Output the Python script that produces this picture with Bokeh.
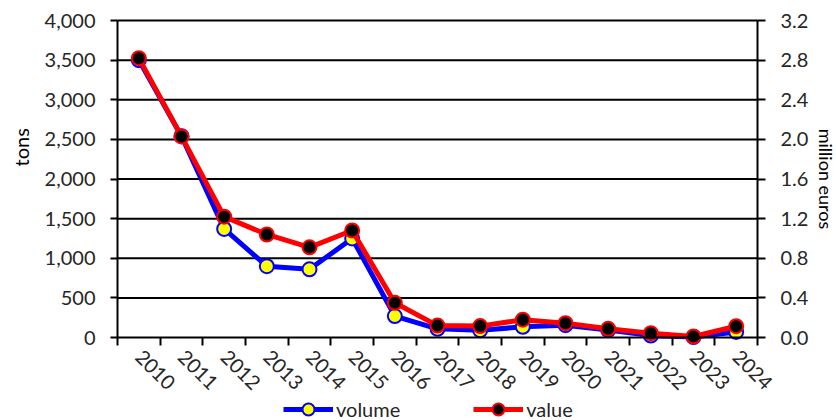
import math
from bokeh.plotting import figure
from bokeh.models import (Range1d, LinearAxis, FixedTicker, NumeralTickFormatter,
                          Legend, LegendItem, Label)
from bokeh.embed import file_html
from bokeh.resources import INLINE

years = [2010, 2011, 2012, 2013, 2014, 2015, 2016, 2017, 2018, 2019, 2020, 2021, 2022, 2023, 2024]
volume_tons = [3500, 2540, 1370, 900, 860, 1250, 270, 110, 90, 135, 155, 95, 25, 5, 70]
value_meur = [2.82, 2.03, 1.22, 1.04, 0.91, 1.08, 0.35, 0.12, 0.115, 0.18, 0.145, 0.088, 0.044, 0.01, 0.114]
tons_ticks = [0, 500, 1000, 1500, 2000, 2500, 3000, 3500, 4000]
eur_ticks = [0.0, 0.4, 0.8, 1.2, 1.6, 2.0, 2.4, 2.8, 3.2]
left_label = "tons"
right_label = "million euros"

FONT = "Lato"
FS = "20px"
TXT = "#262626"

# layout in pixels: the whole canvas is the frame, the plotting box sits inside it
W, H = 836, 420
LEFT_PX, PLOT_W = 117, 640
TOP_PX, SPAN_PX = 20, 317
RIGHT_PX = W - LEFT_PX - PLOT_W
BELOW_PX = H - TOP_PX - SPAN_PX

t_max = tons_ticks[-1]
e_max = eur_ticks[-1]
x0 = years[0] - 0.5
x1 = years[-1] + 0.5
ppy = PLOT_W / (x1 - x0)

p = figure(frame_width=W, frame_height=H,
           min_border_left=0, min_border_right=0, min_border_top=0, min_border_bottom=0,
           x_range=Range1d(x0 - LEFT_PX / ppy, x1 + RIGHT_PX / ppy),
           y_range=Range1d(-t_max * BELOW_PX / SPAN_PX, t_max * (1 + TOP_PX / SPAN_PX)),
           output_backend="svg", toolbar_location=None, tools="")
p.extra_y_ranges = {"eur": Range1d(-e_max * BELOW_PX / SPAN_PX, e_max * (1 + TOP_PX / SPAN_PX))}
p.outline_line_color = None
p.background_fill_color = "white"
p.border_fill_color = "white"

# gridlines (value 0 is the x axis line)
n_g = len(tons_ticks) - 1
p.segment(x0=[x0] * n_g, x1=[x1] * n_g, y0=tons_ticks[1:], y1=tons_ticks[1:],
          line_color="black", line_width=2)

# x axis, pinned at zero
xa = p.xaxis[0]
xa.fixed_location = 0
xa.bounds = (x0, x1)
xa.axis_label = None
xa.ticker = FixedTicker(ticks=years, minor_ticks=[y - 0.5 for y in years] + [x1])
xa.major_label_overrides = {y: str(y) for y in years}
xa.major_label_orientation = -math.pi / 4
xa.major_tick_out = 0
xa.major_tick_in = 0
xa.minor_tick_out = 8
xa.minor_tick_in = 0
xa.minor_tick_line_color = "black"
xa.minor_tick_line_width = 2
xa.axis_line_color = "black"
xa.axis_line_width = 2
xa.major_label_text_font = FONT
xa.major_label_text_font_size = FS
xa.major_label_text_color = TXT
xa.major_label_standoff = 8

# left axis
ya = p.yaxis[0]
ya.fixed_location = x0
ya.bounds = (0, t_max)
ya.axis_label = None
ya.ticker = FixedTicker(ticks=tons_ticks)
ya.formatter = NumeralTickFormatter(format="0,0")
ya.major_tick_out = 7
ya.major_tick_in = 0
ya.minor_tick_line_color = None
ya.major_tick_line_width = 2
ya.axis_line_width = 2
ya.axis_line_color = "black"
ya.major_label_text_font = FONT
ya.major_label_text_font_size = FS
ya.major_label_text_color = TXT
ya.major_label_standoff = 15

# right axis
ra = LinearAxis(y_range_name="eur", ticker=FixedTicker(ticks=eur_ticks),
                formatter=NumeralTickFormatter(format="0.0"), bounds=(0, e_max),
                fixed_location=x1)
ra.major_tick_out = 8
ra.major_tick_in = 0
ra.minor_tick_line_color = None
ra.major_tick_line_width = 2
ra.axis_line_width = 2
ra.axis_line_color = "black"
ra.major_label_text_font = FONT
ra.major_label_text_font_size = FS
ra.major_label_text_color = TXT
ra.major_label_standoff = 15
p.add_layout(ra, "right")

p.xgrid.grid_line_color = None
p.ygrid.grid_line_color = None

# axis titles
p.add_layout(Label(x=x0, y=t_max * 0.6, x_offset=-97, text=left_label, angle=math.pi / 2,
                   text_font=FONT, text_font_size="20px", text_color="black",
                   text_align="center", text_baseline="middle"))
p.add_layout(Label(x=x1, y=t_max * 0.5, x_offset=68, text=right_label, angle=-math.pi / 2,
                   text_font=FONT, text_font_size="18px", text_color="black",
                   text_align="center", text_baseline="middle"))

# series
bl = p.line(years, volume_tons, line_color="#0000ff", line_width=5)
yc = p.scatter(years, volume_tons, size=14, fill_color="#ffff00", line_color="#0000ff", line_width=2)
rl = p.line(years, value_meur, line_color="#ff0000", line_width=5, y_range_name="eur")
bc = p.scatter(years, value_meur, size=14, fill_color="black", line_color="#ff0000", line_width=2,
               y_range_name="eur")

lg = Legend(items=[LegendItem(label="volume", renderers=[bl, yc]),
                   LegendItem(label="value", renderers=[rl, bc])],
            location=(LEFT_PX + 166, -4), orientation="horizontal",
            border_line_color=None, background_fill_alpha=0,
            padding=0, margin=0, spacing=73, glyph_width=50, glyph_height=30, label_height=30,
            label_standoff=3, label_text_font=FONT, label_text_font_size=FS,
            label_text_color=TXT)
p.add_layout(lg)

open("out.html", "w").write(file_html(p, INLINE))
